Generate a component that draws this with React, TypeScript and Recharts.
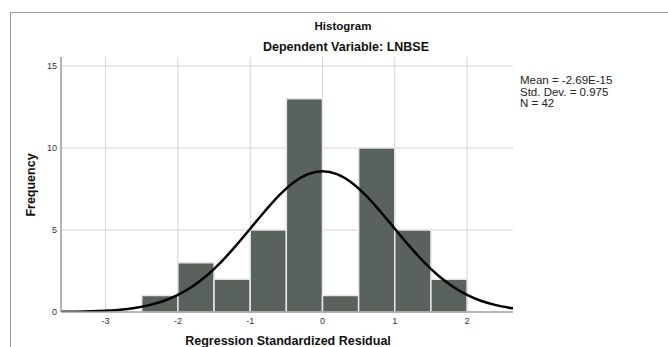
import React from "react";
import {
  ComposedChart,
  Line,
  XAxis,
  YAxis,
  CartesianGrid,
  ReferenceArea,
} from "recharts";

// histogram bins (width 0.5) and their counts
const binStarts = [-2.5, -2.0, -1.5, -1.0, -0.5, 0.0, 0.5, 1.0, 1.5];
const binCounts = [1, 3, 2, 5, 13, 1, 10, 5, 2];
const binWidth = 0.5;

// normal curve
const curveX = [
  -3.62, -3.4, -3.2, -3.0, -2.8, -2.6, -2.4, -2.2, -2.0, -1.8, -1.6, -1.4,
  -1.2, -1.0, -0.8, -0.6, -0.4, -0.2, 0, 0.2, 0.4, 0.6, 0.8, 1.0, 1.2, 1.4,
  1.6, 1.8, 2.0, 2.2, 2.4, 2.6, 2.64,
];
const curveY = [
  0.01, 0.02, 0.04, 0.08, 0.14, 0.25, 0.42, 0.67, 1.05, 1.56, 2.23, 3.06,
  4.03, 5.08, 6.13, 7.11, 7.9, 8.41, 8.59, 8.41, 7.9, 7.11, 6.13, 5.08, 4.03,
  3.06, 2.23, 1.56, 1.05, 0.67, 0.42, 0.25, 0.22,
];

const xTicks = [-3, -2, -1, 0, 1, 2];
const yTicks = [0, 5, 10, 15];
const statLines = ["Mean = -2.69E-15", "Std. Dev. = 0.975", "N = 42"];

const FONT = '"Liberation Sans", Arial, sans-serif';
const BAR_COLOR = "#59625c";

export default function App() {
  const curve = curveX.map((x, i) => ({ x, y: curveY[i] }));

  return (
    <div
      style={{
        position: "absolute",
        left: 0,
        top: 0,
        width: 668,
        height: 347,
        background: "#fff",
        fontFamily: FONT,
        overflow: "hidden",
      }}
    >
      {/* outer frame */}
      <div
        style={{
          position: "absolute",
          left: 10,
          top: 12,
          width: 660,
          height: 340,
          borderTop: "1px solid #9a9a9a",
          borderLeft: "1px solid #9a9a9a",
        }}
      />

      <ComposedChart
        width={668}
        height={347}
        data={curve}
        margin={{ top: 57, right: 155, bottom: 5, left: 0 }}
        style={{ position: "absolute", left: 0, top: 0 }}
      >
        <CartesianGrid
          stroke="#d4d4d4"
          strokeWidth={1}
          verticalValues={xTicks}
          horizontalValues={[5, 10, 15]}
        />
        <XAxis
          dataKey="x"
          type="number"
          domain={[-3.617, 2.635]}
          allowDataOverflow
          ticks={xTicks}
          height={30}
          tickLine={false}
          tickSize={4}
          tickMargin={2}
          axisLine={{ stroke: "#a0a0a0", strokeWidth: 1.5 }}
          tick={{ fontSize: 9, fill: "#333", fontFamily: FONT }}
        />
        <YAxis
          type="number"
          domain={[0, 15.55]}
          allowDataOverflow
          ticks={yTicks}
          width={61}
          tickLine={false}
          tickSize={2}
          tickMargin={2}
          axisLine={{ stroke: "#9a9a9a", strokeWidth: 1.5 }}
          tick={{ fontSize: 9, fill: "#333", fontFamily: FONT }}
        />
        {binStarts.map((b, i) => (
          <ReferenceArea
            key={b}
            x1={b}
            x2={b + binWidth}
            y1={0}
            y2={binCounts[i]}
            fill={BAR_COLOR}
            fillOpacity={1}
            stroke="#e6e6e6"
            strokeWidth={1.5}
            strokeOpacity={1}
          />
        ))}
        <Line
          dataKey="y"
          type="monotone"
          stroke="#000"
          strokeWidth={2.5}
          dot={false}
          activeDot={false}
          isAnimationActive={false}
        />
      </ComposedChart>

      {/* titles */}
      <div
        style={{
          position: "absolute",
          left: 343,
          top: 27,
          transform: "translate(-50%, -50%)",
          fontSize: 11.5,
          fontWeight: "bold",
          whiteSpace: "nowrap",
          lineHeight: 1,
          color: "#111",
        }}
      >
        Histogram
      </div>
      <div
        style={{
          position: "absolute",
          left: 346,
          top: 47,
          transform: "translate(-50%, -50%)",
          fontSize: 12.5,
          fontWeight: "bold",
          whiteSpace: "nowrap",
          lineHeight: 1,
          color: "#111",
        }}
      >
        Dependent Variable: LNBSE
      </div>

      {/* stats box */}
      <div
        style={{
          position: "absolute",
          left: 520,
          top: 75,
          fontSize: 11.5,
          lineHeight: "11.5px",
          color: "#222",
          whiteSpace: "nowrap",
        }}
      >
        {statLines.map((s) => (
          <div key={s}>{s}</div>
        ))}
      </div>

      {/* axis titles */}
      <div
        style={{
          position: "absolute",
          left: 31,
          top: 185,
          transform: "translate(-50%, -50%) rotate(-90deg)",
          fontSize: 12.5,
          fontWeight: "bold",
          whiteSpace: "nowrap",
          lineHeight: 1,
          color: "#111",
        }}
      >
        Frequency
      </div>
      <div
        style={{
          position: "absolute",
          left: 288,
          top: 341,
          transform: "translate(-50%, -50%)",
          fontSize: 12.5,
          fontWeight: "bold",
          whiteSpace: "nowrap",
          lineHeight: 1,
          color: "#111",
        }}
      >
        Regression Standardized Residual
      </div>
    </div>
  );
}
